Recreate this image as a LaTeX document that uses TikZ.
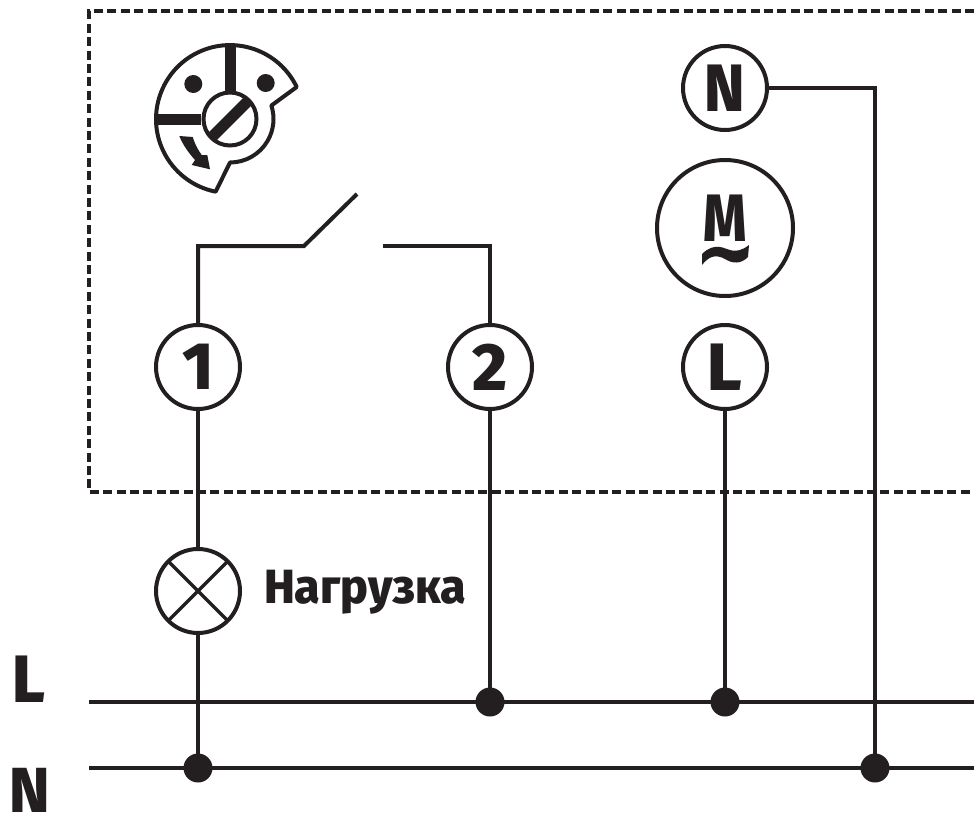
\documentclass[tikz,border=0pt]{standalone}
\usepackage{fontspec}
\setmainfont{Fira Sans}
\newfontfamily\heavy{Fira Sans ExtraBold}
\definecolor{ink}{HTML}{231F20}
\tikzset{
  wire/.style={draw=ink,line width=4pt,line join=miter},
  term/.style={circle,draw=ink,fill=white,line width=4pt,minimum size=84pt,inner sep=0pt,outer sep=0pt,text=ink,font=\heavy\fontsize{67}{67}\selectfont},
  motor/.style={circle,draw=ink,fill=white,line width=4pt,minimum size=136pt,inner sep=0pt,outer sep=0pt},
  lamp/.style={circle,draw=ink,fill=white,line width=4pt,minimum size=84pt,inner sep=0pt,outer sep=0pt},
  junction/.style={circle,fill=ink,minimum size=29pt,inner sep=0pt,outer sep=0pt},
  biglabel/.style={text=ink,inner sep=0pt,font=\heavy\fontsize{67}{67}\selectfont},
  caption/.style={text=ink,inner sep=0pt,anchor=base west,font=\heavy\fontsize{48}{48}\selectfont},
  frame/.style={draw=ink,line width=4pt,dash pattern=on 9pt off 4.4pt},
}
\begin{document}
\begin{tikzpicture}[x=1pt,y=-1pt]
\useasboundingbox (0,0) rectangle (974,814);
% frame
\draw[frame] (974,11) -- (89,11) -- (89,492) -- (974,492);
% buses
\coordinate (lw) at (89,702);
\coordinate (le) at (974,702);
\coordinate (nw) at (89,768);
\coordinate (ne) at (974,768);
\draw[wire] (lw) -- (le);
\draw[wire] (nw) -- (ne);
\node[junction] (j1) at (198,768) {};
\node[junction] (j2) at (490,702) {};
\node[junction] (j3) at (725,702) {};
\node[junction] (j4) at (875,768) {};
\node[term] (t1) at (198,367) {1};
\node[term] (t2) at (490,367) {2};
\node[term] (tl) at (725,367) {L};
\node[term] (tn) at (725,88) {\scalebox{.92}[1]{N}};
\node[lamp] (lp) at (198,591) {};
\node[motor] (m) at (725,228) {};
\node[text=ink,inner sep=0pt,font=\heavy\fontsize{67}{67}\selectfont] (mm) at (725,218.5) {\scalebox{.82}[1]{M}};
\node[biglabel] (bl) at (29,679) {\scalebox{.95}[1]{L}};
\node[biglabel] (bn) at (30,790) {\scalebox{.92}[.95]{N}};
\node[caption] (nag) at (264,603) {\scalebox{.97}[1]{Нагрузка}};
% lamp cross
\draw[draw=ink,line width=3.5pt] (lp.45) -- (lp.225) (lp.135) -- (lp.315);
% wires
\coordinate (sa) at (304,246);
\coordinate (sb) at (357,194);
\coordinate (sc) at (383,246);
\draw[wire] (t1.north) |- (sa) -- (sb);
\draw[wire] (sc) -| (t2.north);
\draw[wire] (t1.south) -- (lp.north);
\draw[wire] (lp.south) -- (j1.center);
\draw[wire] (t2.south) -- (j2.center);
\draw[wire] (tl.south) -- (j3.center);
\draw[wire] (tn.east) -| (j4.center);
% tilde
\fill[ink] (702,254) .. controls (708,248) and (714,246) .. (720,247) .. controls (728,248) and (735,256) .. (749,245)
  -- (748,257) .. controls (741,264) and (733,264) .. (725,259) .. controls (716,254) and (709,256) .. (702,265) -- cycle;
% selector icon
\draw[draw=ink,line width=4pt,line join=round]
  (296.7,87) arc[start angle=-25.7,end angle=-258.8,radius=74]
  -- (230,162.5) arc[start angle=90,end angle=-18,radius=43.5] -- cycle;
\fill[ink] (225,47) rectangle (235.5,90.5);
\fill[ink] (157,114) rectangle (200.5,124.5);
\fill[ink] (193.3,84) circle[radius=9];
\fill[ink] (265.7,83) circle[radius=9];
\draw[draw=ink,line width=4pt,fill=white] (230,119) circle[radius=26.5];
\begin{scope}
\clip (230,119) circle[radius=26];
\draw[draw=ink,line width=11pt] (208,141) -- (252,97);
\end{scope}
\fill[ink] (179.3,136) -- (192.7,137) .. controls (196,147) and (199,151) .. (201.7,155) -- (207.3,155) -- (210,169.3) -- (191.7,165) -- (195,160) .. controls (188,152) and (183,145) .. cycle;
\end{tikzpicture}
\end{document}
